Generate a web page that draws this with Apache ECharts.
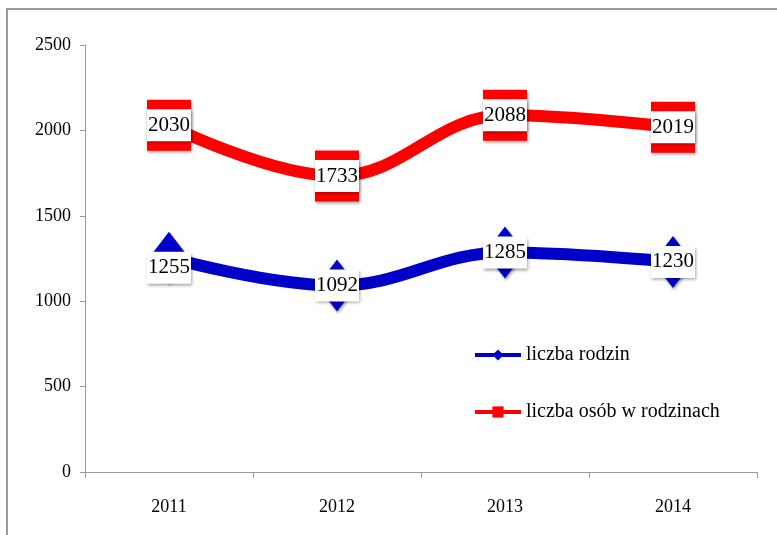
<!DOCTYPE html>
<html>
<head>
<meta charset="utf-8">
<script src="https://cdn.jsdelivr.net/npm/echarts@6/dist/echarts.min.js"></script>
<style>
  html, body { margin: 0; padding: 0; background: #fff; }
  #chart { width: 777px; height: 535px; }
</style>
</head>
<body>
<div id="chart"></div>
<script>
// dane
var years = ["2011", "2012", "2013", "2014"];
var rodziny = [1255, 1092, 1285, 1230];
var osoby = [2030, 1733, 2088, 2019];
var yTicks = [0, 500, 1000, 1500, 2000, 2500];

var FONT = "Liberation Serif";

var chart = echarts.init(document.getElementById("chart"));

// pierwsza etykieta niebieska jest troche nizej
var rodzinyData = rodziny.map(function (v, i) {
  return i === 0 ? { value: v, label: { offset: [0, 10] } } : v;
});

var labelBox = {
  show: true,
  position: "inside",
  color: "#000",
  fontFamily: FONT,
  fontSize: 21,
  backgroundColor: "#fff",
  padding: [6, 1, 5, 1],
  shadowColor: "rgba(0,0,0,0.35)",
  shadowBlur: 3,
  shadowOffsetX: 1,
  shadowOffsetY: 2
};

var option = {
  animation: false,
  backgroundColor: "#fff",
  graphic: [
    {
      type: "rect",
      shape: { x: 7, y: 9, width: 800, height: 560 },
      style: { fill: null, stroke: "#999", lineWidth: 2 },
      z: -1
    }
  ],
  grid: { left: 85, right: 20, top: 45, bottom: 63 },
  legend: {
    orient: "vertical",
    left: 468,
    top: 340,
    itemGap: 37,
    itemWidth: 46,
    itemHeight: 14,
    lineStyle: { width: 4 },
    textStyle: { fontFamily: FONT, fontSize: 20, color: "#000" },
    data: ["liczba rodzin", "liczba osób w rodzinach"]
  },
  xAxis: {
    type: "category",
    data: years,
    boundaryGap: true,
    axisLine: { lineStyle: { color: "#999", width: 1 } },
    axisTick: { show: true, length: 6, lineStyle: { color: "#999" } },
    axisLabel: { color: "#000", fontFamily: FONT, fontSize: 18, margin: 26 }
  },
  yAxis: {
    type: "value",
    min: yTicks[0],
    max: yTicks[yTicks.length - 1],
    interval: 500,
    splitLine: { show: false },
    axisLine: { show: true, lineStyle: { color: "#999", width: 1 } },
    axisTick: { show: true, length: 5, lineStyle: { color: "#999" } },
    axisLabel: {
      color: "#000", fontFamily: FONT, fontSize: 18, margin: 14,
      formatter: function (v) { return String(v); }
    }
  },
  series: [
    {
      name: "liczba rodzin",
      type: "line",
      data: rodzinyData,
      smooth: 0.4,
      symbol: "diamond",
      symbolSize: [40, 52],
      lineStyle: { color: "#0000c8", width: 12 },
      itemStyle: {
        color: "#0000c8",
        shadowColor: "rgba(0,0,0,0.35)",
        shadowBlur: 3,
        shadowOffsetX: 1,
        shadowOffsetY: 2
      },
      label: labelBox,
      z: 3
    },
    {
      name: "liczba osób w rodzinach",
      type: "line",
      data: osoby,
      smooth: 0.4,
      symbol: "rect",
      symbolSize: [44, 51],
      lineStyle: { color: "#ff0000", width: 12 },
      itemStyle: {
        color: "#ff0000",
        shadowColor: "rgba(0,0,0,0.35)",
        shadowBlur: 3,
        shadowOffsetX: 1,
        shadowOffsetY: 2
      },
      label: labelBox,
      z: 3
    }
  ]
};

chart.setOption(option);
</script>
</body>
</html>
